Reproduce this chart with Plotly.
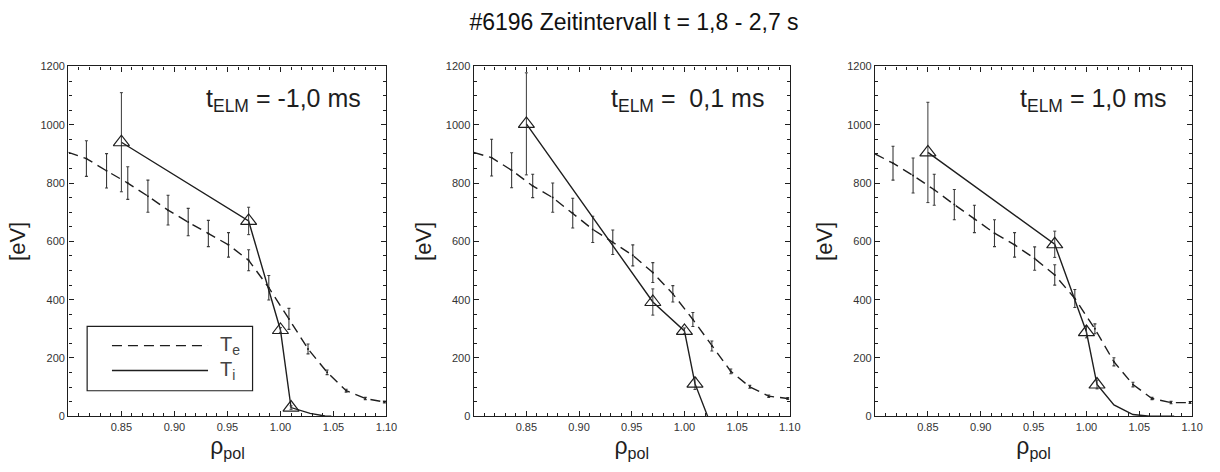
import plotly.graph_objects as go

# ---------------- data ----------------
panel_labels = ["t<sub>ELM</sub> = -1,0 ms", "t<sub>ELM</sub> =  0,1 ms", "t<sub>ELM</sub> = 1,0 ms"]
title_text = "#6196 Zeitintervall t = 1,8 - 2,7 s"

# electron temperature T_e (dashed, with error bars); first point is where the curve enters at the left edge
te_rho = [0.800, 0.817, 0.836, 0.856, 0.875, 0.894, 0.913, 0.932, 0.951, 0.970, 0.989, 1.008, 1.026, 1.044, 1.062, 1.080, 1.098]
te_m10 = [905, 884, 842, 800, 755, 707, 666, 627, 588, 535, 441, 334, 231, 151, 88, 61, 49]
te_m10_err = [0, 61, 59, 56, 55, 51, 47, 45, 42, 36, 42, 36, 17, 8, 5, 4, 3]
te_p01 = [905, 887, 844, 790, 750, 697, 641, 597, 552, 493, 420, 332, 241, 154, 101, 69, 61]
te_p01_err = [0, 63, 60, 40, 50, 51, 45, 42, 36, 34, 28, 24, 17, 8, 5, 4, 3]
te_p10 = [900, 868, 826, 777, 726, 677, 628, 588, 541, 485, 404, 300, 187, 109, 61, 47, 47]
te_p10_err = [0, 58, 60, 53, 52, 47, 46, 42, 40, 35, 31, 17, 14, 8, 4, 4, 3]

# ion temperature T_i (solid with triangles at measured points)
ti_rho = [0.85, 0.97, 1.00, 1.01]
ti_m10 = [940, 670, 296, 30]
ti_m10_err = [170, 47, 8, 6]
ti_p01 = [1003, 392, 293, 112]
ti_p01_err = [175, 45, 10, 20]
ti_p10 = [905, 590, 289, 109]
ti_p10_err = [172, 45, 20, 15]

# tail of the T_i curve beyond the last measured point
ti_tail_m10_rho = [1.028, 1.042, 1.048]
ti_tail_m10 = [10, 1, 0]
ti_tail_p01_rho = [1.022]
ti_tail_p01 = [0]
ti_tail_p10_rho = [1.026, 1.044, 1.060, 1.083]
ti_tail_p10 = [39, 6, 0, 0]

panels = [
    (te_m10, te_m10_err, ti_m10, ti_m10_err, ti_tail_m10_rho, ti_tail_m10),
    (te_p01, te_p01_err, ti_p01, ti_p01_err, ti_tail_p01_rho, ti_tail_p01),
    (te_p10, te_p10_err, ti_p10, ti_p10_err, ti_tail_p10_rho, ti_tail_p10),
]

x_ticks = [0.85, 0.90, 0.95, 1.00, 1.05, 1.10]
x_ticktext = ["0.85", "0.90", "0.95", "1.00", "1.05", "1.10"]
y_ticks = [0, 200, 400, 600, 800, 1000, 1200]

# ---------------- styling ----------------
W, H = 1220, 472
INK = "#1e1e1e"
FONT = "Liberation Sans Narrow, Arial Narrow, Liberation Sans, Arial, sans-serif"
SANS = "Liberation Sans, Arial, sans-serif"
DASH = "10px,6px"
xdoms = [(69, 390), (478, 797), (883, 1203)]
ydom_px = (62, 421)

fig = go.Figure()

for i, (te, te_err, ti, ti_err, tail_rho, tail_val) in enumerate(panels):
    xa = "x" if i == 0 else f"x{i+1}"
    ya = "y" if i == 0 else f"y{i+1}"
    # dashed T_e line
    fig.add_trace(go.Scatter(x=te_rho, y=te, mode="lines", xaxis=xa, yaxis=ya,
                             line=dict(color=INK, width=1.4, dash=DASH), showlegend=False,
                             hoverinfo="skip"))
    # T_e error bars
    fig.add_trace(go.Scatter(x=te_rho[1:], y=te[1:], mode="markers", xaxis=xa, yaxis=ya,
                             marker=dict(size=2, color=INK),
                             error_y=dict(type="data", array=te_err[1:], color="#3a3a3a",
                                          thickness=1.1, width=1.5),
                             showlegend=False))
    # solid T_i line (measured points + tail)
    fig.add_trace(go.Scatter(x=ti_rho + tail_rho, y=ti + tail_val, mode="lines", xaxis=xa, yaxis=ya,
                             line=dict(color=INK, width=1.4), showlegend=False))
    # T_i triangles with error bars
    fig.add_trace(go.Scatter(x=ti_rho, y=ti, mode="markers", xaxis=xa, yaxis=ya,
                             marker=dict(symbol="triangle-up-open", size=14, color=INK,
                                         line=dict(width=1.2, color=INK)),
                             error_y=dict(type="data", array=ti_err, color="#3a3a3a",
                                          thickness=1.0, width=1.5),
                             showlegend=False))

    x0, x1 = xdoms[i]
    axis_common = dict(showline=True, linecolor=INK, linewidth=1.4, mirror="ticks",
                       ticks="inside", ticklen=5, tickwidth=1.1, tickcolor=INK,
                       showgrid=False, zeroline=False,
                       tickfont=dict(family=FONT, size=11, color="#333"))
    fig.layout[("xaxis" if i == 0 else f"xaxis{i+1}")] = dict(
        axis_common, domain=[x0 / W, x1 / W], range=[0.80, 1.10], anchor=ya,
        tickvals=x_ticks, ticktext=x_ticktext,
        minor=dict(dtick=0.01, tick0=0.80, ticks="inside", ticklen=3, tickcolor=INK, tickwidth=1),
        title=dict(text="ρ<sub>pol</sub>", font=dict(family=SANS, size=23, color=INK),
                   standoff=3))
    fig.layout[("yaxis" if i == 0 else f"yaxis{i+1}")] = dict(
        axis_common, domain=[1 - ydom_px[1] / H, 1 - ydom_px[0] / H], range=[0, 1200], anchor=xa,
        tickvals=y_ticks,
        minor=dict(dtick=50, tick0=0, ticks="inside", ticklen=3, tickcolor=INK, tickwidth=1),
        title=dict(text="[eV]", font=dict(family=SANS, size=22, color=INK),
                   standoff=8))

    fig.add_annotation(text=panel_labels[i], xref=f"{xa} domain", yref=f"{ya} domain",
                       x=0.925, y=0.905, xanchor="right", yanchor="middle", showarrow=False,
                       font=dict(family=SANS, size=25, color=INK))

# legend drawn in the first panel
fig.add_shape(type="rect", xref="x domain", yref="y domain", x0=0.059, x1=0.579, y0=0.073, y1=0.257,
              line=dict(color=INK, width=1.2), fillcolor="white", layer="above")
fig.add_shape(type="line", xref="x domain", yref="y domain", x0=0.137, x1=0.439, y0=0.202, y1=0.202,
              line=dict(color=INK, width=1.4, dash=DASH))
fig.add_shape(type="line", xref="x domain", yref="y domain", x0=0.137, x1=0.439, y0=0.131, y1=0.131,
              line=dict(color=INK, width=1.4))
fig.add_annotation(text="T<sub>e</sub>", xref="x domain", yref="y domain", x=0.47, y=0.202,
                   xanchor="left", yanchor="middle", showarrow=False,
                   font=dict(family=SANS, size=20, color="#444"))
fig.add_annotation(text="T<sub>i</sub>", xref="x domain", yref="y domain", x=0.47, y=0.131,
                   xanchor="left", yanchor="middle", showarrow=False,
                   font=dict(family=SANS, size=20, color="#444"))

fig.update_layout(
    width=W, height=H,
    margin=dict(l=0, r=0, t=0, b=0),
    paper_bgcolor="white", plot_bgcolor="white",
    title=dict(text=title_text, x=634 / W, xanchor="center", y=1 - 22 / H, yanchor="middle",
               font=dict(family=FONT, size=23, color="#111")),
    showlegend=False,
)

fig.write_html("out.html")
